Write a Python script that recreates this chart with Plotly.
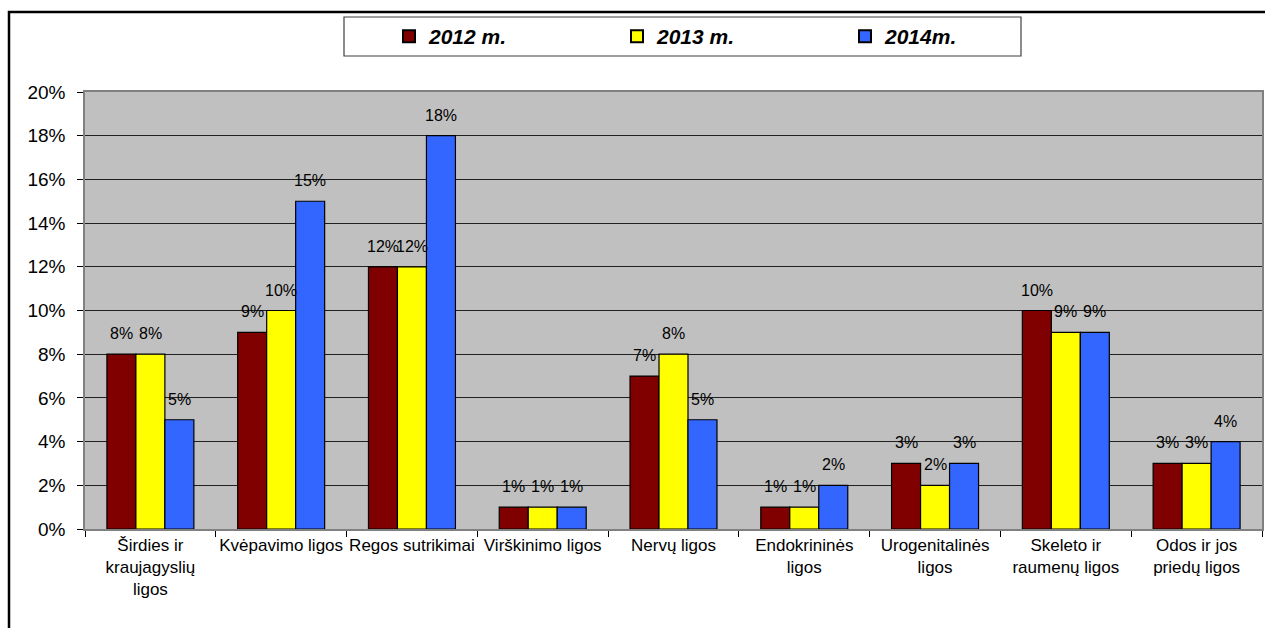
import plotly.graph_objects as go

categories = [
    "Širdies ir<br>kraujagyslių<br>ligos",
    "Kvėpavimo ligos",
    "Regos sutrikimai",
    "Virškinimo ligos",
    "Nervų ligos",
    "Endokrininės<br>ligos",
    "Urogenitalinės<br>ligos",
    "Skeleto ir<br>raumenų ligos",
    "Odos ir jos<br>priedų ligos",
]
series_names = ["2012 m.", "2013 m.", "2014m."]
v2012 = [0.08, 0.09, 0.12, 0.01, 0.07, 0.01, 0.03, 0.10, 0.03]
v2013 = [0.08, 0.10, 0.12, 0.01, 0.08, 0.01, 0.02, 0.09, 0.03]
v2014 = [0.05, 0.15, 0.18, 0.01, 0.05, 0.02, 0.03, 0.09, 0.04]
colors = ["#800000", "#FFFF00", "#3366FF"]
y_ticks = [0, 0.02, 0.04, 0.06, 0.08, 0.10, 0.12, 0.14, 0.16, 0.18, 0.20]

FONT = "Liberation Sans, Arial, sans-serif"

L, R, T, B = 85, 3, 92, 99
W, H = 1265, 628
pw, ph = W - L - R, H - T - B
BARGAP = 0.335
bar_px = pw / len(categories) * (1 - BARGAP) / len(series_names)

fig = go.Figure()
annotations = []
for i, (name, vals, col) in enumerate(zip(series_names, [v2012, v2013, v2014], colors)):
    fig.add_trace(go.Bar(
        x=categories, y=vals, name=name,
        marker=dict(color=col, line=dict(color="black", width=1.2)),
    ))
    for cat, v in zip(categories, vals):
        annotations.append(dict(
            x=cat, y=v, xref="x", yref="y", text=f"{v:.0%}", showarrow=False,
            xanchor="center", yanchor="bottom",
            xshift=(i - (len(series_names) - 1) / 2) * bar_px, yshift=10,
            font=dict(size=16, color="black", family=FONT),
        ))


def px(x):
    return (x - L) / pw


def py(y):
    return (H - B - y) / ph


shapes = [
    # outer frame
    dict(type="rect", xref="paper", yref="paper",
         x0=px(9), x1=px(1290), y0=py(660), y1=py(12),
         line=dict(color="black", width=2.5), fillcolor="rgba(0,0,0,0)", layer="below"),
    # legend box
    dict(type="rect", xref="paper", yref="paper",
         x0=px(344), x1=px(1021), y0=py(56), y1=py(17),
         line=dict(color="#404040", width=1.2), fillcolor="white", layer="below"),
]

fig.update_layout(
    width=W, height=H,
    margin=dict(l=L, r=R, t=T, b=B, autoexpand=False),
    paper_bgcolor="white", plot_bgcolor="#C0C0C0",
    barmode="group", bargap=BARGAP, bargroupgap=0,
    font=dict(family=FONT, color="black"),
    showlegend=True,
    legend=dict(orientation="h", x=px(389), xanchor="left", y=py(36.5), yanchor="middle",
                font=dict(size=21, family=FONT, weight="bold", style="italic", color="black"),
                entrywidth=183, entrywidthmode="pixels",
                bgcolor="rgba(0,0,0,0)", borderwidth=0, itemsizing="constant"),
    shapes=shapes,
    annotations=annotations,
    xaxis=dict(showgrid=False, tickson="boundaries", ticks="outside", ticklen=6,
               tickcolor="black", showline=True, linecolor="#808080", linewidth=1.5,
               mirror=True, tickfont=dict(size=17, family=FONT), tickangle=0),
    yaxis=dict(range=[0, 0.2], tickvals=y_ticks, tickformat=".0%", showgrid=True,
               gridcolor="#202020", gridwidth=1, zeroline=False,
               ticks="outside", ticklen=6, tickcolor="black",
               showline=True, linecolor="#808080", linewidth=1.5, mirror=True,
               tickfont=dict(size=19, family=FONT), ticklabelstandoff=8),
)

fig.write_html(
    "out.html",
    config={"displayModeBar": False},
    post_script="document.body.style.margin='0';document.body.style.overflow='hidden';",
)
